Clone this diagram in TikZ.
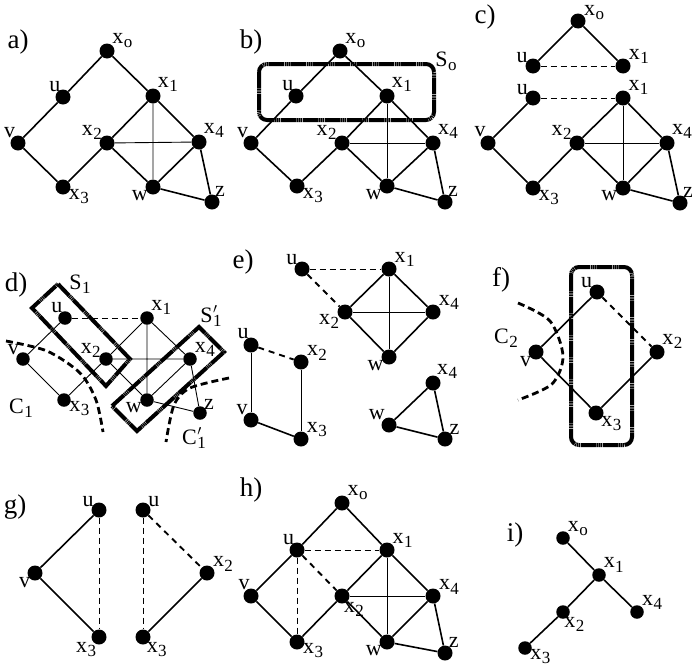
\documentclass[tikz,border=0pt]{standalone}
\usepackage{fontspec}
\setmainfont{Liberation Serif}
\newcommand\subs[1]{\raisebox{-0.4ex}{\fontsize{17}{17}\selectfont #1}}
\newcommand\xs[1]{x\kern0.4pt\subs{#1}}
\newcommand\Ss[1]{S\kern0.4pt\subs{#1}}
\newcommand\Cs[1]{C\kern0.4pt\subs{#1}}
\newcommand\Sp[1]{#1\kern0.4pt\rlap{\raisebox{0.1ex}{$'$}}\subs{1}}
\begin{document}
\begin{tikzpicture}[x=1pt,y=-1pt,
  dot/.style={circle,fill=black,inner sep=0pt,minimum size=15pt},
  sdot/.style={circle,fill=black,inner sep=0pt,minimum size=13.5pt},
  lbl/.style={font=\fontsize{22}{22}\selectfont,inner sep=0.3pt},
  every label/.style={lbl},
  panel/.style={font=\fontsize{27}{27}\selectfont,inner sep=0pt},
  ed/.style={line width=1.6pt},
  th/.style={line width=0.9pt},
  dsh/.style={line width=0.9pt,dash pattern=on 6pt off 4pt},
  dshk/.style={line width=1.9pt,dash pattern=on 6pt off 5pt},
  hbox/.style={line width=4pt,dash pattern=on 16pt off 0.6pt on 1.2pt off 0.6pt on 1.2pt off 0.6pt on 1.2pt off 0.6pt},
  cdash/.style={line width=2.8pt,dash pattern=on 7pt off 4pt},
  label distance=-2pt]
\useasboundingbox (0,0) rectangle (692,664);
\fill[white] (0,0) rectangle (692,664);

% ---------- panel a ----------
\node[panel] (pa) at (18,42) {a)};
\node[dot,label=30:\xs{o}] (a0) at (107,51) {};
\node[dot,label=112:u] (au) at (63,97) {};
\node[dot,label=38:\xs{1}] (a1) at (153,96) {};
\node[dot,label=115:v] (av) at (18,143) {};
\node[dot,label=145:\xs{2}] (a2) at (107,143) {};
\node[dot,label=38:\xs{4}] (a4) at (199,142) {};
\node[dot,label=-20:\xs{3}] (a3) at (63,187) {};
\node[dot,label=-145:w] (aw) at (153,187) {};
\node[dot,label=62:z] (az) at (212,202) {};
\draw[ed] (a0)--(au) (a0)--(a1) (au)--(av) (av)--(a3) (a3)--(a2) (a2)--(a1)
  (a1)--(a4) (a2)--(aw) (aw)--(a4) (a4)--(az) (aw)--(az);
\draw[th] (a1)--(aw) (a2)--(a4);

% ---------- panel b ----------
\node[panel] (pb) at (251,42) {b)};
\node[dot,label=30:\xs{o}] (b0) at (340,51) {};
\node[dot,label=112:u] (bu) at (296,96) {};
\node[dot,label=38:\xs{1}] (b1) at (387,96) {};
\node[dot,label=115:v] (bv) at (251,143) {};
\node[dot,label=150:\xs{2}] (b2) at (342,143) {};
\node[dot,label=38:\xs{4}] (b4) at (433,143) {};
\node[dot,label=-20:\xs{3}] (b3) at (297,186) {};
\node[dot,label=-145:w] (bw) at (387,186) {};
\node[dot,label=62:z] (bz) at (445,202) {};
\draw[ed] (b0)--(bu) (b0)--(b1) (bu)--(bv) (bv)--(b3) (b3)--(b2) (b2)--(b1)
  (b1)--(b4) (b2)--(bw) (bw)--(b4) (b4)--(bz) (bw)--(bz);
\draw[th] (b1)--(bw) (b2)--(b4);
\draw[hbox,rounded corners=8pt] (259,64) rectangle (434,120);
\node[lbl] (bS) at (446,61) {\Ss{o}};

% ---------- panel c ----------
\node[panel] (pc) at (485,17) {c)};
\node[dot,label=10:\xs{o}] (c0) at (578,21) {};
\node[dot,label=150:u] (cut) at (533,66) {};
\node[dot,label=18:\xs{1}] (c1t) at (623,66) {};
\node[dot,label=145:u] (cu) at (533,98) {};
\node[dot,label=28:\xs{1}] (c1) at (623,98) {};
\node[dot,label=110:v] (cv) at (488,143) {};
\node[dot,label=150:\xs{2}] (c2) at (577,143) {};
\node[dot,label=38:\xs{4}] (c4) at (667,143) {};
\node[dot,label=-20:\xs{3}] (c3) at (533,188) {};
\node[dot,label=-160:w] (cw) at (623,188) {};
\node[dot,label=62:z] (cz) at (680,203) {};
\draw[ed] (c0)--(cut) (c0)--(c1t);
\draw[dsh] (cut)--(c1t) (cu)--(c1);
\draw[ed] (cu)--(cv) (cv)--(c3) (c3)--(c2) (c2)--(c1)
  (c1)--(c4) (c2)--(cw) (cw)--(c4) (c4)--(cz) (cw)--(cz);
\draw[th] (c1)--(cw) (c2)--(c4);

% ---------- panel d ----------
\node[panel] (pd) at (16,285) {d)};
\node[sdot,label=115:u] (du) at (65,318) {};
\node[sdot,label=40:\xs{1}] (d1) at (147,318) {};
\node[sdot,label=135:v] (dv) at (23,359) {};
\node[sdot,label=165:\xs{2}] (d2) at (106,359) {};
\node[sdot,label=25:\xs{4}] (d4) at (190,359) {};
\node[sdot,label=-5:\xs{3}] (d3) at (64,400) {};
\node[sdot,label=-160:w] (dw) at (147,400) {};
\node[sdot,label=45:z] (dz) at (200,413) {};
\draw[dsh] (du)--(d1);
\draw[th] (du)--(dv) (dv)--(d3) (d3)--(d2) (d2)--(d1) (d1)--(d4) (d2)--(dw)
  (dw)--(d4) (d1)--(dw) (d2)--(d4) (d4)--(dz) (dw)--(dz);
\coordinate (s1a) at (58,284); \coordinate (s1b) at (130,359);
\coordinate (s1c) at (106,386); \coordinate (s1d) at (32,308);
\draw[hbox] (s1a)--(s1b)--(s1c)--(s1d)--cycle;
\coordinate (s2a) at (112,406); \coordinate (s2b) at (199,327);
\coordinate (s2c) at (224,352); \coordinate (s2d) at (137,431);
\draw[hbox] (s2a)--(s2b)--(s2c)--(s2d)--cycle;
\node[lbl] (dS1) at (80,284) {\Ss{1}};
\node[lbl] (dS2) at (211,316) {\Sp{S}};
\draw[cdash] plot[smooth] coordinates {(6,341) (47,351) (80,373) (96,400) (103,432)};
\draw[cdash] plot[smooth] coordinates {(229,378) (190,388) (174,405) (166,442)};
\node[lbl] (dC1) at (21,408) {\Cs{1}};
\node[lbl] (dC2) at (194,438) {\Sp{C}};

% ---------- panel e ----------
\node[panel] (pe) at (243,262) {e)};
\node[dot,label=135:u] (eu) at (302,269) {};
\node[dot,label=25:\xs{1}] (e1) at (389,269) {};
\node[dot,label=200:\xs{2}] (e2) at (345,312) {};
\node[dot,label=20:\xs{4}] (e4) at (433,312) {};
\node[dot,label=-150:w] (ew) at (389,357) {};
\draw[dsh] (eu)--(e1);
\draw[dshk] (eu)--(e2);
\draw[ed] (e2)--(e1) (e1)--(e4) (e2)--(ew) (ew)--(e4);
\draw[th] (e1)--(ew) (e2)--(e4);
\node[dot,label=110:u] (elu) at (251,345) {};
\node[dot,label=15:\xs{2}] (el2) at (301,362) {};
\node[dot,label=120:v] (elv) at (251,420) {};
\node[dot,label=20:\xs{3}] (el3) at (301,439) {};
\draw[dshk] (elu)--(el2);
\draw[th] (elu)--(elv) (el2)--(el3);
\draw[ed] (elv)--(el3);
\node[dot,label=50:\xs{4}] (et4) at (433,383) {};
\node[dot,label=130:w] (etw) at (389,425) {};
\node[dot,label=45:z] (etz) at (445,439) {};
\draw[ed] (etw)--(et4) (et4)--(etz) (etw)--(etz);

% ---------- panel f ----------
\node[panel] (pf) at (501,280) {f)};
\node[dot,label=140:u] (fu) at (597,292) {};
\node[dot,label=-140:v] (fv) at (536,352) {};
\node[dot,label=30:\xs{2}] (f2) at (657,352) {};
\node[dot,label=-30:\xs{3}] (f3) at (596,413) {};
\draw[ed] (fu)--(fv) (fv)--(f3) (f3)--(f2);
\draw[dshk] (fu)--(f2);
\draw[hbox,rounded corners=8pt] (571,267) rectangle (632,445);
\draw[cdash] plot[smooth] coordinates {(518,303) (550,321) (563,356) (552,384) (518,400)};
\node[lbl] (fC) at (506,338) {\Cs{2}};

% ---------- panel g ----------
\node[panel] (pg) at (15,507) {g)};
\node[dot,label=150:u] (gu) at (99,510) {};
\node[dot,label=-140:v] (gv) at (35,573) {};
\node[dot,label=-115:\xs{3}] (g3) at (99,637) {};
\draw[ed] (gu)--(gv) (gv)--(g3);
\draw[dsh] (gu)--(g3);
\node[dot,label=30:u] (gru) at (143,510) {};
\node[dot,label=15:\xs{2}] (gr2) at (207,573) {};
\node[dot,label=-55:\xs{3}] (gr3) at (143,637) {};
\draw[dsh] (gru)--(gr3);
\draw[dshk] (gru)--(gr2);
\draw[ed] (gr2)--(gr3);

% ---------- panel h ----------
\node[panel] (ph) at (251,490) {h)};
\node[dot,label=25:\xs{o}] (h0) at (342,503) {};
\node[dot,label=115:u] (hu) at (297,550) {};
\node[dot,label=25:\xs{1}] (h1) at (387,550) {};
\node[dot,label=100:v] (hv) at (251,596) {};
\node[dot,label=-75:\xs{2}] (h2) at (342,596) {};
\node[dot,label=15:\xs{4}] (h4) at (433,596) {};
\node[dot,label=-10:\xs{3}] (h3) at (297,642) {};
\node[dot,label=-145:w] (hw) at (387,642) {};
\node[dot,label=55:z] (hz) at (445,653) {};
\draw[ed] (h0)--(hu) (h0)--(h1) (hu)--(hv) (hv)--(h3) (h3)--(h2) (h2)--(h1)
  (h1)--(h4) (h2)--(hw) (hw)--(h4) (h4)--(hz) (hw)--(hz);
\draw[th] (h1)--(hw) (h2)--(h4);
\draw[dsh] (hu)--(h1) (hu)--(h3);
\draw[dshk] (hu)--(h2);

% ---------- panel i ----------
\node[panel] (pi) at (515,535) {i)};
\node[sdot,label=25:\xs{o}] (i0) at (563,538) {};
\node[sdot,label=30:\xs{1}] (i1) at (599,575) {};
\node[sdot,label=-80:\xs{2}] (i2) at (563,612) {};
\node[sdot,label=20:\xs{4}] (i4) at (637,612) {};
\node[sdot,label=-5:\xs{3}] (i3) at (525,648) {};
\draw[ed] (i0)--(i1) (i1)--(i2) (i1)--(i4) (i2)--(i3);
\end{tikzpicture}
\end{document}
